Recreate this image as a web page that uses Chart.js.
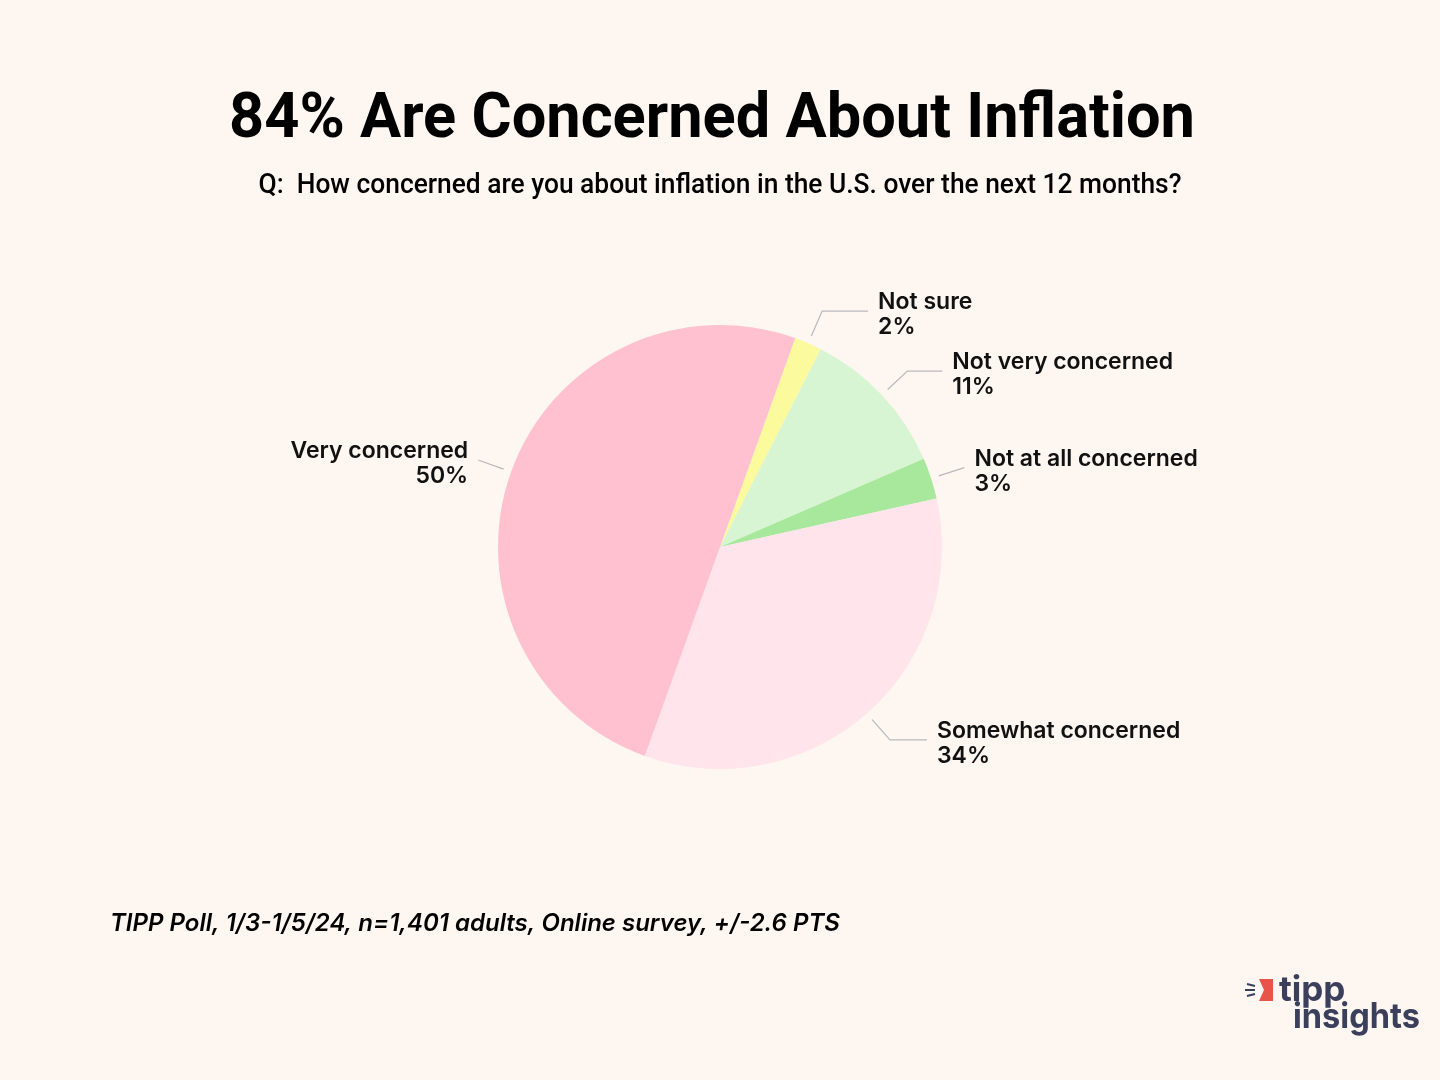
<!DOCTYPE html>
<html>
<head>
<meta charset="utf-8">
<script src="https://cdn.jsdelivr.net/npm/chart.js@4"></script>
<style>
  html, body { margin: 0; padding: 0; background: #fef6f1; }
  #wrap { width: 1440px; height: 1080px; }
</style>
</head>
<body>
<div id="wrap"><canvas id="pie-chart" width="1440" height="1080"></canvas></div>
<script>
// DATA
const labels = ['Not sure', 'Not very concerned', 'Not at all concerned', 'Somewhat concerned', 'Very concerned'];
const values = [2, 11, 3, 34, 50];
const colors = ['#fbfa9c', '#d8f5d3', '#a8e89c', '#ffe4eb', '#ffc1d0'];

const FONT = 'Roboto, "Noto Sans", sans-serif';
const WIDE = 'Inter, "Open Sans", sans-serif';

// leader line + two-line labels next to each slice
const sliceLabels = {
  id: 'sliceLabels',
  afterDatasetsDraw(chart, args, opts) {
    const ctx = chart.ctx;
    const arcs = chart.getDatasetMeta(0).data;
    arcs.forEach((arc, i) => {
      const mid = (arc.startAngle + arc.endAngle) / 2;
      const r = arc.outerRadius;
      const x1 = arc.x + Math.cos(mid) * (r + 8);
      const y1 = arc.y + Math.sin(mid) * (r + 8);
      const x2 = arc.x + Math.cos(mid) * (r + 35);
      const y2 = arc.y + Math.sin(mid) * (r + 35);
      const right = Math.cos(mid) >= 0;
      const x3 = x2 + (right ? 1 : -1) * opts.ext[i];
      ctx.save();
      ctx.strokeStyle = '#b9b9bd';
      ctx.lineWidth = 1.2;
      ctx.beginPath();
      ctx.moveTo(x1, y1);
      ctx.lineTo(x2, y2);
      ctx.lineTo(x3, y2);
      ctx.stroke();
      ctx.fillStyle = '#111';
      ctx.font = '600 23px ' + WIDE;
      ctx.textBaseline = 'middle';
      ctx.textAlign = right ? 'left' : 'right';
      const tx = x3 + (right ? 10 : -10);
      ctx.fillText(labels[i], tx, y2 - 9);
      ctx.fillText(values[i] + '%', tx, y2 + 16);
      ctx.restore();
    });
  }
};

// title, question, source note and logo
const frame = {
  id: 'frame',
  beforeDraw(chart) {
    const ctx = chart.ctx;
    ctx.save();
    ctx.fillStyle = '#fef6f1';
    ctx.fillRect(0, 0, chart.width, chart.height);
    ctx.restore();
  },
  afterDraw(chart) {
    const ctx = chart.ctx;
    ctx.save();
    ctx.fillStyle = '#000';
    ctx.textBaseline = 'alphabetic';
    ctx.textAlign = 'center';
    ctx.font = 'bold 63px ' + FONT;
    ctx.fillText('84% Are Concerned About Inflation', 712, 137, 966);
    ctx.font = '500 27px ' + FONT;
    ctx.fillText('Q:  How concerned are you about inflation in the U.S. over the next 12 months?', 720, 193, 923);
    ctx.textAlign = 'left';
    ctx.font = 'italic 600 24px ' + WIDE;
    ctx.fillText('TIPP Poll, 1/3-1/5/24, n=1,401 adults, Online survey, +/-2.6 PTS', 110, 931, 737);

    // logo
    ctx.fillStyle = '#e8534a';
    ctx.beginPath();
    ctx.moveTo(1259, 979);
    ctx.lineTo(1273, 979);
    ctx.lineTo(1273, 1001);
    ctx.lineTo(1259, 1001);
    ctx.lineTo(1264, 990);
    ctx.closePath();
    ctx.fill();
    ctx.strokeStyle = '#3a3f5c';
    ctx.lineWidth = 2;
    ctx.beginPath();
    ctx.moveTo(1247, 984); ctx.lineTo(1255, 986);
    ctx.moveTo(1245, 990); ctx.lineTo(1255, 990);
    ctx.moveTo(1247, 996); ctx.lineTo(1255, 994);
    ctx.stroke();
    ctx.fillStyle = '#3a3f5c';
    ctx.font = 'bold 35px ' + WIDE;
    ctx.fillText('tipp', 1279, 1001);
    ctx.fillText('insights', 1293, 1028, 127);
    ctx.restore();
  }
};

const pieConfig = {
  type: 'pie',
  data: {
    labels: labels,
    datasets: [
      {
        data: values,
        backgroundColor: colors,
        borderWidth: 0,
      },
    ],
  },
  options: {
    responsive: false,
    animation: false,
    rotation: 19.8,
    layout: {
      padding: { top: 325, bottom: 311, left: 498, right: 498 },
    },
    plugins: {
      legend: { display: false },
      tooltip: { enabled: false },
      sliceLabels: { ext: [46, 35, 0, 37, 0] },
    },
  },
  plugins: [frame, sliceLabels],
};

new Chart(document.querySelector('#pie-chart'), pieConfig);
</script>
</body>
</html>
